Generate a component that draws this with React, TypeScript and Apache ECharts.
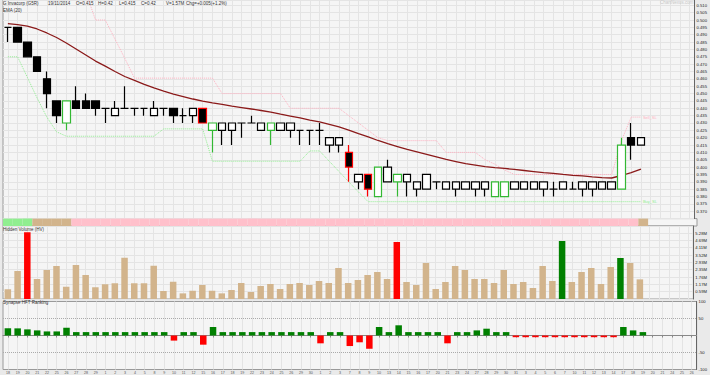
import React, { useEffect, useRef } from 'react';
import * as echarts from 'echarts';

const dates = ['18','19','20','21','22','25','26','27','28','29',
  '1','2','3','4','5','8','9','10','11','12','15','16','17','18','19','22','23','24','25','26','29','30',
  '1','2','3','7','8','9','10','13','14','15','16','17','20','21','23','24','27','28','29','30','31',
  '3','4','5','6','7','10','11','12','13','14','17','18','19',
  '20','21','24','25','26'];

// open, close, low, high
const opens = [0.495,0.495,0.485,0.475,0.460,0.445,0.430,0.445,0.445,0.445,0.440,0.435,0.440,0.440,0.440,0.435,0.440,0.440,0.435,0.435,0.440,0.425,0.425,0.425,
  0.430,0.430,0.425,0.425,0.425,0.425,0.425,0.425,0.425,0.415,0.415,
  0.410,0.390,0.395,0.380,0.390,0.390,0.390,0.385,0.385,0.390,0.385,0.385,0.385,0.385,
  0.385,0.380,0.380,0.385,0.385,0.385,0.385,0.385,0.385,0.385,0.385,0.385,0.385,0.385,0.385,0.420,0.415];
const closes = [0.495,0.485,0.475,0.465,0.450,0.435,0.445,0.440,0.440,0.440,0.440,0.440,0.440,0.440,0.440,0.440,0.440,0.435,0.435,0.440,0.430,0.430,0.430,0.430,
  0.430,0.430,0.430,0.430,0.430,0.430,0.425,0.425,0.425,0.420,0.420,
  0.400,0.395,0.385,0.400,0.400,0.395,0.395,0.390,0.395,0.390,0.390,0.390,0.390,0.390,
  0.390,0.390,0.390,0.390,0.390,0.390,0.390,0.385,0.390,0.385,0.390,0.390,0.390,0.390,0.415,0.415,0.420];
const lows = [0.485,0.485,0.475,0.465,0.440,0.430,0.425,0.440,0.440,0.435,0.430,0.435,0.440,0.435,0.435,0.435,0.435,0.430,0.430,0.430,0.430,0.410,0.415,0.415,
  0.420,0.430,0.425,0.415,0.425,0.420,0.415,0.415,0.415,0.410,0.410,
  0.390,0.385,0.380,0.380,0.390,0.380,0.380,0.380,0.385,0.385,0.385,0.380,0.385,0.380,
  0.380,0.380,0.380,0.385,0.385,0.385,0.380,0.380,0.385,0.385,0.380,0.380,0.385,0.385,0.385,0.405,0.415];
const highs = [0.495,0.495,0.485,0.475,0.465,0.445,0.445,0.455,0.450,0.445,0.440,0.445,0.455,0.440,0.440,0.445,0.440,0.440,0.440,0.440,0.440,0.430,0.430,0.430,
  0.430,0.435,0.430,0.430,0.430,0.430,0.425,0.425,0.430,0.420,0.420,
  0.415,0.395,0.395,0.400,0.405,0.395,0.395,0.390,0.395,0.390,0.390,0.390,0.390,0.390,
  0.390,0.390,0.390,0.390,0.390,0.390,0.390,0.390,0.390,0.390,0.390,0.390,0.390,0.390,0.420,0.430,0.420];
// b = black body, w = hollow, g = green outline, r = red outline
const candleKinds = ['b','b','b','b','b','b','g','b','b','b','w','w','w','w','w','w','w','b','w','w','r','g','w','w',
  'w','w','w','g','w','w','w','w','w','w','w',
  'r','w','r','g','w','g','w','w','w','w','w','w','w','w',
  'w','g','g','w','w','w','w','w','w','w','w','w','w','w','g','b','w'];

const ema20 = [0.4976,0.4969,0.4959,0.4939,0.4912,0.4881,0.4844,0.4803,0.4762,0.4721,0.4687,0.4650,0.4616,0.4589,0.4562,0.4538,0.4517,0.4497,0.4480,0.4463,0.4449,0.4436,0.4426,0.4415,
  0.4405,0.4395,0.4385,0.4374,0.4360,0.4347,0.4334,0.4320,0.4307,0.4290,0.4273,0.4252,0.4228,0.4205,0.4181,0.4160,0.4140,0.4120,0.4103,0.4086,0.4069,0.4052,0.4038,0.4024,0.4014,
  0.4004,0.3997,0.3991,0.3984,0.3977,0.3970,0.3963,0.3957,0.3950,0.3944,0.3940,0.3934,0.3929,0.3926,0.3943,0.3963,0.3987];

const sellSL = [null,null,null,null,null,null,null,null,0.519,0.500,0.500,0.487,0.474,0.4605,0.4605,0.4605,0.4605,0.4605,0.4605,0.4605,0.4605,0.4605,0.450,0.450,
  0.450,0.450,0.450,0.450,0.450,0.440,0.440,0.440,0.440,0.440,0.440,0.435,0.430,0.425,0.420,0.418,0.418,0.418,0.418,0.418,0.418,0.410,0.410,0.410,0.410,
  0.405,0.402,0.398,0.395,0.395,0.395,0.395,0.395,0.395,0.395,0.395,0.395,0.395,0.395,0.418,0.434,0.434];
const buySL = [0.475,0.475,0.461,0.447,0.434,0.424,0.421,0.421,0.421,0.421,0.421,0.421,0.421,0.421,0.421,0.421,0.426,0.426,0.426,0.426,0.426,0.404,0.404,0.404,
  0.404,0.404,0.404,0.404,0.404,0.404,0.404,0.411,0.411,0.404,0.397,0.390,0.383,0.3765,0.3765,0.3765,0.3765,0.3765,0.3765,0.3765,0.3765,0.3765,0.3765,0.3765,0.3765,
  0.3765,0.3765,0.3765,0.3765,0.3765,0.3765,0.3765,0.3765,0.3765,0.3765,0.3765,0.3765,0.3765,0.3765,0.3765,0.3765,0.3765];

// millions
const volumes = [0.78,2.24,5.34,1.60,2.32,2.64,0.98,2.72,1.92,0.94,1.18,1.26,3.30,1.26,1.26,2.66,0.64,1.38,0.45,0.66,1.12,0.66,0.45,0.72,
  1.28,0.56,1.04,1.20,0.80,1.20,1.28,1.12,1.44,1.28,2.48,1.28,1.52,1.92,2.16,1.60,4.56,1.36,1.12,2.88,0.80,1.36,2.64,2.32,1.60,
  1.60,1.28,2.32,1.20,1.36,0.88,2.64,1.44,4.64,1.36,2.16,2.48,1.20,2.56,3.28,2.88,1.57];
const volumeKinds = ['t','t','r','t','t','t','t','t','t','t','t','t','t','t','t','t','t','t','t','t','t','t','t','t',
  't','t','t','t','t','t','t','t','t','t','t','t','t','t','t','t','r','t','t','t','t','t','t','t','t',
  't','t','t','t','t','t','t','t','g','t','t','t','t','t','g','t','t'];

const hft = [21,21,18,15,12,12,23,10,10,10,10,10,10,10,10,10,10,-15,10,10,-27,25,10,10,
  10,10,10,10,10,10,10,10,-23,10,10,-31,-20,-39,25,10,30,10,10,10,10,-23,10,10,15,
  20,10,10,-5,-5,-5,-5,-5,-5,-5,-5,-5,-5,-5,25,15,10];

const stripKinds = ['l','l','l','t','t','t','t','p','p','p','p','p','p','p','p','p','p','p','p','p','p','p','p','p',
  'p','p','p','p','p','p','p','p','p','p','p','p','p','p','p','p','p','p','p','p','p','p','p','p','p',
  'p','p','p','p','p','p','p','p','p','p','p','p','p','p','p','p','t'];

const header = [
  { t: 'G Invacorp (G5R)', x: 3 },
  { t: '19/11/2014', x: 48 },
  { t: 'O=0.415', x: 76 },
  { t: 'H=0.42', x: 98 },
  { t: 'L=0.415', x: 119 },
  { t: 'C=0.42', x: 141 },
  { t: 'V=1.57M', x: 166 },
  { t: 'Chg=+0.005(+1.2%)', x: 186 },
];

const FONT = 'Liberation Sans, Arial, sans-serif';

export default function App() {
  const ref = useRef<HTMLDivElement>(null);
  useEffect(() => {
    document.body.style.margin = '0';
    const chart = echarts.init(ref.current!, null, { renderer: 'svg' });
    const kindStyle: any = {
      b: { color: '#000', color0: '#000', borderColor: '#000', borderColor0: '#000' },
      w: { color: '#fff', color0: '#fff', borderColor: '#000', borderColor0: '#000' },
      g: { color: '#fff', color0: '#fff', borderColor: '#33b833', borderColor0: '#33b833' },
      r: { color: '#000', color0: '#000', borderColor: '#ff0000', borderColor0: '#ff0000' },
    };
    const candleData = opens.map((o, i) => ({
      value: [o, closes[i], lows[i], highs[i]],
      itemStyle: kindStyle[candleKinds[i]],
    }));
    const volColor: any = { t: '#d2b48c', r: '#ff0000', g: '#008000' };
    const stripColor: any = { l: '#90ee90', t: '#d2b48c', p: '#ffc0cb' };
    const L = 3, W = 694;
    const grids = [
      { left: L, width: W, top: 0, height: 218.6 },
      { left: L, width: W, top: 218.6, height: 7.4 },
      { left: L, width: W, top: 226, height: 73 },
      { left: L, width: W, top: 301.5, height: 68 },
    ].map(g => ({ ...g, show: true, backgroundColor: '#f5f5f5', borderColor: '#9a9a9a', borderWidth: 1 }));
    const xAxes = grids.map((_, gi) => ({
      type: 'category',
      gridIndex: gi,
      data: dates,
      boundaryGap: true,
      axisLine: { show: gi === 3, lineStyle: { color: '#888' } },
      axisTick: { show: gi === 3, alignWithLabel: true, length: 2, lineStyle: { color: '#888' } },
      axisLabel: { show: gi === 3, fontSize: 3.6, margin: 1.5, color: '#555', interval: 0, fontFamily: FONT },
      splitLine: { show: gi !== 1, alignWithLabel: true, lineStyle: { color: '#e4e4e4', width: 1 } },
    }));
    const yLabel = { fontSize: 4.2, margin: 2, color: '#222', fontFamily: FONT };
    const yAxes = [
      {
        type: 'value', gridIndex: 0, position: 'right', min: 0.365, max: 0.51361, interval: 0.005,
        axisLine: { show: true, lineStyle: { color: '#666' } }, axisTick: { show: false },
        axisLabel: { ...yLabel, showMinLabel: false, showMaxLabel: false, formatter: (v: number) => v.toFixed(3) },
        splitLine: { show: true, lineStyle: { color: '#e4e4e4' } },
      },
      {
        type: 'value', gridIndex: 1, position: 'right', min: 0, max: 1,
        axisLine: { show: false }, axisTick: { show: false }, axisLabel: { show: false }, splitLine: { show: false },
      },
      {
        type: 'value', gridIndex: 2, position: 'right', min: 0, max: 5.84, interval: 0.5866,
        axisLine: { show: true, lineStyle: { color: '#666' } }, axisTick: { show: false },
        axisLabel: { ...yLabel, showMinLabel: false, showMaxLabel: false, formatter: (v: number) => v.toFixed(2) + 'M' },
        splitLine: { show: true, lineStyle: { color: '#e4e4e4' } },
      },
      {
        type: 'value', gridIndex: 3, position: 'right', min: -100, max: 100, interval: 50,
        axisLine: { show: true, lineStyle: { color: '#666' } }, axisTick: { show: false },
        axisLabel: { ...yLabel, formatter: (v: number) => (v === 0 ? '' : String(v)) },
        splitLine: { show: false },
      },
    ];
    const headerTexts = header.map(h => ({
      type: 'text', left: h.x, top: 1, z: 100,
      style: { text: h.t, fontSize: 4.5, fill: '#333', fontFamily: FONT },
    }));
    chart.setOption({
      animation: false,
      backgroundColor: '#eaeaea',
      grid: grids,
      xAxis: xAxes,
      yAxis: yAxes,
      graphic: [
        ...headerTexts,
        { type: 'text', left: 3, top: 8, z: 100, style: { text: 'EMA (20)', fontSize: 4.5, fill: '#333', fontFamily: FONT } },
        { type: 'text', left: 3, top: 227, z: 100, style: { text: 'Hidden Volume (HV)', fontSize: 4.5, fill: '#333', fontFamily: FONT } },
        { type: 'text', left: 3, top: 300, z: 100, style: { text: 'Synapse HFT Ranking', fontSize: 4.5, fill: '#333', fontFamily: FONT } },
        { type: 'text', left: 660, top: 0, z: 100, style: { text: 'ChartNexus.com', fontSize: 4.5, fill: '#c8c8c8', fontFamily: FONT } },
      ],
      series: [
        {
          type: 'line', name: 'EMA', xAxisIndex: 0, yAxisIndex: 0, data: ema20, symbol: 'none',
          lineStyle: { color: '#8b1a1a', width: 1.3 }, z: 3,
        },
        {
          type: 'line', name: 'Sell_SL', xAxisIndex: 0, yAxisIndex: 0, data: sellSL, symbol: 'none',
          lineStyle: { color: '#ffb0c0', width: 1, type: 'dotted' }, z: 2,
          endLabel: { show: true, formatter: 'Sell_SL', fontSize: 4, color: '#ffb0c0', distance: 2, fontFamily: FONT },
        },
        {
          type: 'line', name: 'Buy_SL', xAxisIndex: 0, yAxisIndex: 0, data: buySL, symbol: 'none',
          lineStyle: { color: '#90ee90', width: 1, type: 'dotted' }, z: 2,
          endLabel: { show: true, formatter: 'Buy_SL', fontSize: 4, color: '#90ee90', distance: 2, fontFamily: FONT },
        },
        {
          type: 'candlestick', xAxisIndex: 0, yAxisIndex: 0, data: candleData, barWidth: 8, z: 4,
          itemStyle: { borderWidth: 1.2 },
        },
        {
          type: 'bar', xAxisIndex: 1, yAxisIndex: 1, barWidth: '100%',
          data: stripKinds.map(k => ({ value: 1, itemStyle: { color: stripColor[k] } })),
        },
        {
          type: 'bar', xAxisIndex: 2, yAxisIndex: 2, barWidth: 6.5,
          data: volumes.map((v, i) => ({ value: v, itemStyle: { color: volColor[volumeKinds[i]] } })),
        },
        {
          type: 'bar', xAxisIndex: 3, yAxisIndex: 3, barWidth: 6.5,
          data: hft.map(v => ({ value: v, itemStyle: { color: v >= 0 ? '#008000' : '#ff0000' } })),
          markLine: {
            silent: true, symbol: 'none', label: { show: false },
            lineStyle: { color: '#aaa', type: 'dotted', width: 1 },
            data: [{ yAxis: 50 }, { yAxis: -50 }],
          },
        },
      ],
    });
    return () => chart.dispose();
  }, []);
  return <div ref={ref} style={{ width: 710, height: 375, position: 'absolute', left: 0, top: 0 }} />;
}
